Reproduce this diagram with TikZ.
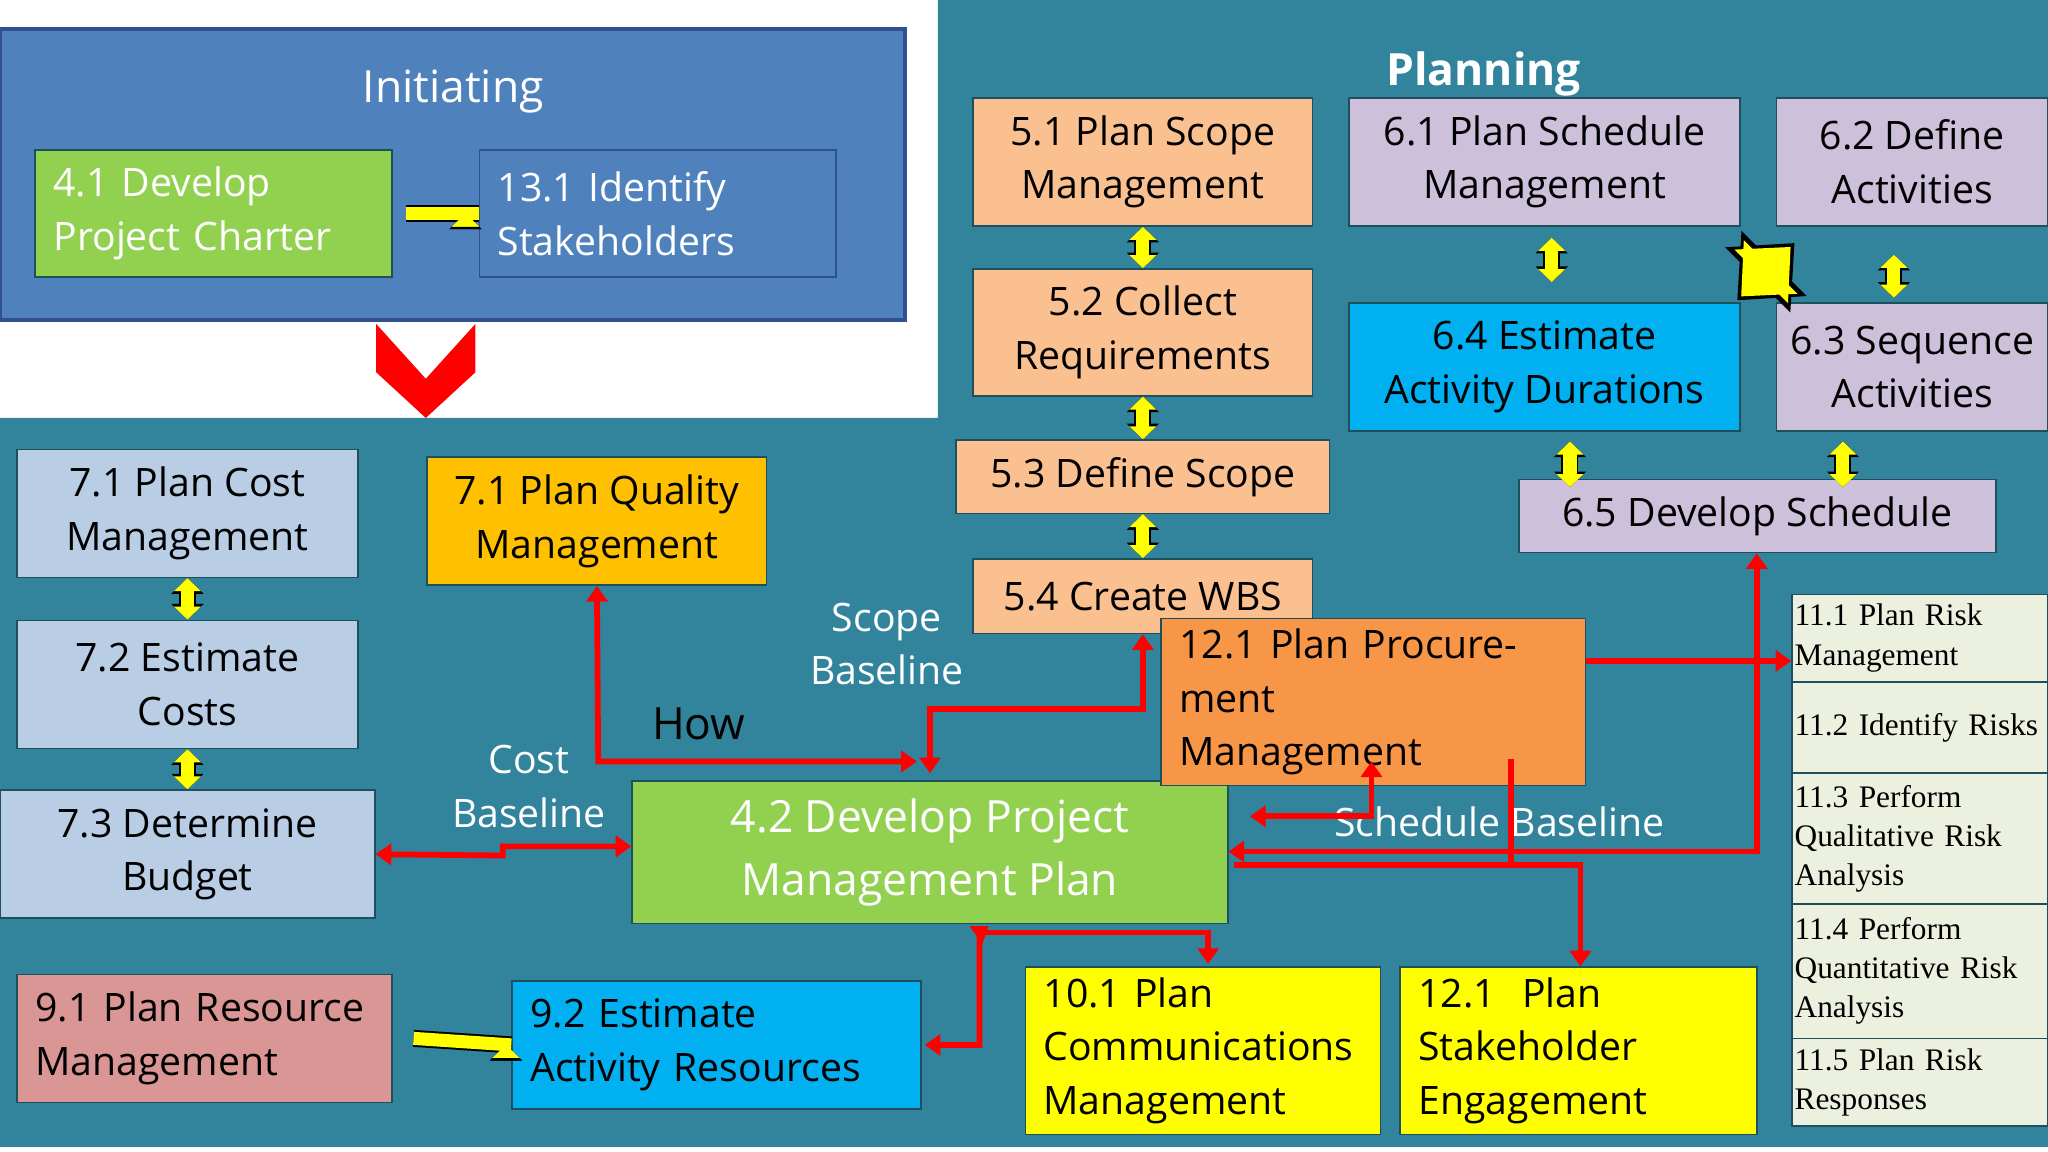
\documentclass[tikz,border=0pt]{standalone}
\usepackage{fontspec}
\setmainfont{Open Sans}
\newfontfamily\serifrisk{Liberation Serif}
\usetikzlibrary{arrows.meta}
\definecolor{teal}{HTML}{31849B}
\definecolor{iniblue}{HTML}{4F81BD}
\definecolor{iniborder}{HTML}{2F528F}
\definecolor{grn}{HTML}{92D050}
\definecolor{peach}{HTML}{FAC090}
\definecolor{lav}{HTML}{CCC0DA}
\definecolor{cyanb}{HTML}{00B0F0}
\definecolor{lblue}{HTML}{B9CDE5}
\definecolor{gold}{HTML}{FFC000}
\definecolor{orng}{HTML}{F79646}
\definecolor{rose}{HTML}{D99694}
\definecolor{yel}{HTML}{FFFF00}
\definecolor{riskbg}{HTML}{EBF1DE}
\definecolor{redc}{HTML}{FF0000}
\newcommand\bx[7]{\node[#6,minimum width={(#4-#2)*0.5pt},minimum height={(#5-#3)*0.5pt}] (#1) at ({(#2+#4)/2},{(#3+#5)/2}) {#7};}
\tikzset{
 base/.style={draw=teal!60!black,line width=0.6pt,inner sep=4pt,font=\fontsize{15}{20.5}\selectfont},
 bc/.style={base,align=center},
 bl/.style={base,align=left,text width={#1*0.5pt-14pt}},
 risk/.style={draw=teal!60!black,fill=riskbg,line width=0.6pt,inner sep=1pt,align=left,text width={(1568-1372)*0.5pt-2pt},font=\serifrisk\fontsize{12}{15}\selectfont},
 yarr/.style={line width=5pt,draw=yel,{Triangle[length=5pt,width=10pt]}-{Triangle[length=5pt,width=10pt]}},
 yout/.style={line width=6.5pt,draw=black,{Triangle[length=6pt,width=12pt]}-{Triangle[length=6pt,width=12pt]}},
 rline/.style={draw=redc,line width=2.2pt},
 rarr/.style={rline,-{Triangle[length=6pt,width=8pt]}},
 rdbl/.style={rline,{Triangle[length=6pt,width=8pt]}-{Triangle[length=6pt,width=8pt]}},
 lbl/.style={text=white,align=center,font=\fontsize{15}{20.5}\selectfont},
}
\newcommand\yd[2]{\draw[yout] #1 -- #2; \draw[yarr] #1 -- #2;}
\begin{document}
\begin{tikzpicture}[x=0.5pt,y=-0.5pt]
\useasboundingbox (0,0) rectangle (1568,882);
\fill[white] (0,0) rectangle (1568,882);
\fill[teal] (718,0) -- (1568,0) -- (1568,878) -- (0,878) -- (0,320) -- (718,320) -- cycle;
% Initiating
\fill[iniblue,draw=iniborder,line width=1.5pt] (0,22) rectangle (693,245);
\node[text=white,font=\fontsize{17}{20}\selectfont] (init) at (347,70) {Initiating};
\bx{d41}{27}{115}{300}{212}{bl=273,fill=grn,text=white}{4.1 Develop\\Project Charter}
\bx{i131}{367}{115}{640}{212}{bl=273,fill=iniblue,draw=iniborder,text=white}{13.1 Identify\\Stakeholders}
\fill[redc] (288,248) -- (326,290) -- (364,248) -- (364,285) -- (326,320) -- (288,285) -- cycle;
% Planning
\node[text=white,font=\bfseries\fontsize{17}{20}\selectfont] (plan) at (1136,57) {Planning};
\bx{s51}{745}{75}{1005}{173}{bc,fill=peach}{5.1 Plan Scope\\Management}
\bx{s52}{745}{206}{1005}{303}{bc,fill=peach}{5.2 Collect\\Requirements}
\bx{s53}{732}{337}{1018}{393}{bc,fill=peach}{5.3 Define Scope}
\bx{s54}{745}{428}{1005}{485}{bc,fill=peach}{5.4 Create WBS}
\bx{t61}{1033}{75}{1332}{173}{bc,fill=lav}{6.1 Plan Schedule\\Management}
\bx{t62}{1360}{75}{1568}{173}{bc,fill=lav}{6.2 Define\\Activities}
\bx{t64}{1033}{232}{1332}{330}{bc,fill=cyanb}{6.4 Estimate\\Activity Durations}
\bx{t63}{1360}{232}{1568}{330}{bc,fill=lav}{6.3 Sequence\\Activities}
\bx{t65}{1163}{367}{1528}{423}{bc,fill=lav}{6.5 Develop Schedule}
\bx{c71}{13}{344}{274}{442}{bc,fill=lblue}{7.1 Plan Cost\\Management}
\bx{c72}{13}{475}{274}{573}{bc,fill=lblue}{7.2 Estimate\\Costs}
\bx{c73}{0}{605}{287}{703}{bc,fill=lblue}{7.3 Determine\\Budget}
\bx{q71}{327}{350}{587}{448}{bc,fill=gold}{7.1 Plan Quality\\Management}
\bx{pmp}{484}{598}{940}{707}{bc,fill=grn,text=white,font=\fontsize{17}{24}\selectfont}{4.2 Develop Project\\Management Plan}
\bx{p121}{889}{494}{1214}{581}{bl=325,fill=orng}{12.1 Plan Procurement\\Management}
\bx{r91}{13}{746}{300}{844}{bl=287,fill=rose}{9.1 Plan Resource\\Management}
\bx{r92}{392}{751}{705}{849}{bl=313,fill=cyanb}{9.2 Estimate\\Activity Resources}
\bx{m101}{785}{742}{1057}{867}{bl=272,fill=yel}{10.1 Plan\\Communications\\Management}
\bx{k121}{1072}{742}{1345}{867}{bl=273,fill=yel}{12.1~ Plan\\Stakeholder\\Engagement}
\bx{k111}{1372}{455}{1568}{522}{risk}{11.1 Plan Risk\\Management}
\bx{k112}{1372}{522}{1568}{592}{risk}{11.2 Identify Risks}
\bx{k113}{1372}{592}{1568}{692}{risk}{11.3 Perform\\Qualitative Risk\\Analysis}
\bx{k114}{1372}{692}{1568}{795}{risk}{11.4 Perform\\Quantitative Risk\\Analysis}
\bx{k115}{1372}{795}{1568}{862}{risk}{11.5 Plan Risk\\Responses}
% labels
\node[lbl] (lsb) at (679,493) {Scope\\Baseline};
\node[font=\fontsize{17}{20}\selectfont] (lhow) at (535,554) {How};
\node[lbl] (lcb) at (405,602) {Cost\\Baseline};
\node[lbl] (lsch) at (1148,629) {Schedule Baseline};
% yellow arrows
\yd{(s51.south)}{(s52.north)}
\yd{(s52.south)}{(s53.north)}
\yd{(s53.south)}{(s54.north)}
\yd{(c71.south)}{(c72.north)}
\yd{(c72.south)}{(c73.north)}
\yd{(1188,182)}{(1188,216)}
\yd{(1450,195)}{(1450,228)}
\yd{(1202,338)}{(1202,373)}
\yd{(1411,338)}{(1411,373)}
\yd{(d41.east)+(10,0)}{(i131.west)+(-10,0)}
\yd{(r91.east)+(16,0)}{(r92.west)+(-4,0)}
\draw[black,line width=20pt,{Triangle[length=20pt,width=34pt]}-{Triangle[length=20pt,width=34pt]}] (1330,230) -- (1374,186);
\draw[yel,line width=16pt,{Triangle[length=16pt,width=28pt]}-{Triangle[length=16pt,width=28pt]}] (1333,227) -- (1371,189);
% red connectors
\draw[rdbl] (q71.south) -- (458,583) -- (702,583);
\draw[rdbl] (s54.south -| 875,0) -- (875,543) -- (712,543) -- (712,592);
\draw[rdbl] (c73.east) -- (385,655) -- (385,648) -- (pmp.west |- 0,648);
\draw[rarr] (p121.east |- 0,506) -- (k111.west |- 0,506);
\draw[rdbl] (pmp.east |- 0,652) -- (1345,652) -- (t65.south -| 1345,0);
\draw[rarr] (945,662) -- (1210,662) -- (k121.north -| 1210,0);
\draw[rline] (1157,581) -- (1157,662);
\draw[rdbl] (957,625) -- (1050,625) -- (1050,583);
\draw[rarr] (750,714) -- (925,714) -- (925,738);
\draw[rdbl] (757,709) -- (750,714) -- (750,800) -- (708,800);
\end{tikzpicture}
\end{document}
